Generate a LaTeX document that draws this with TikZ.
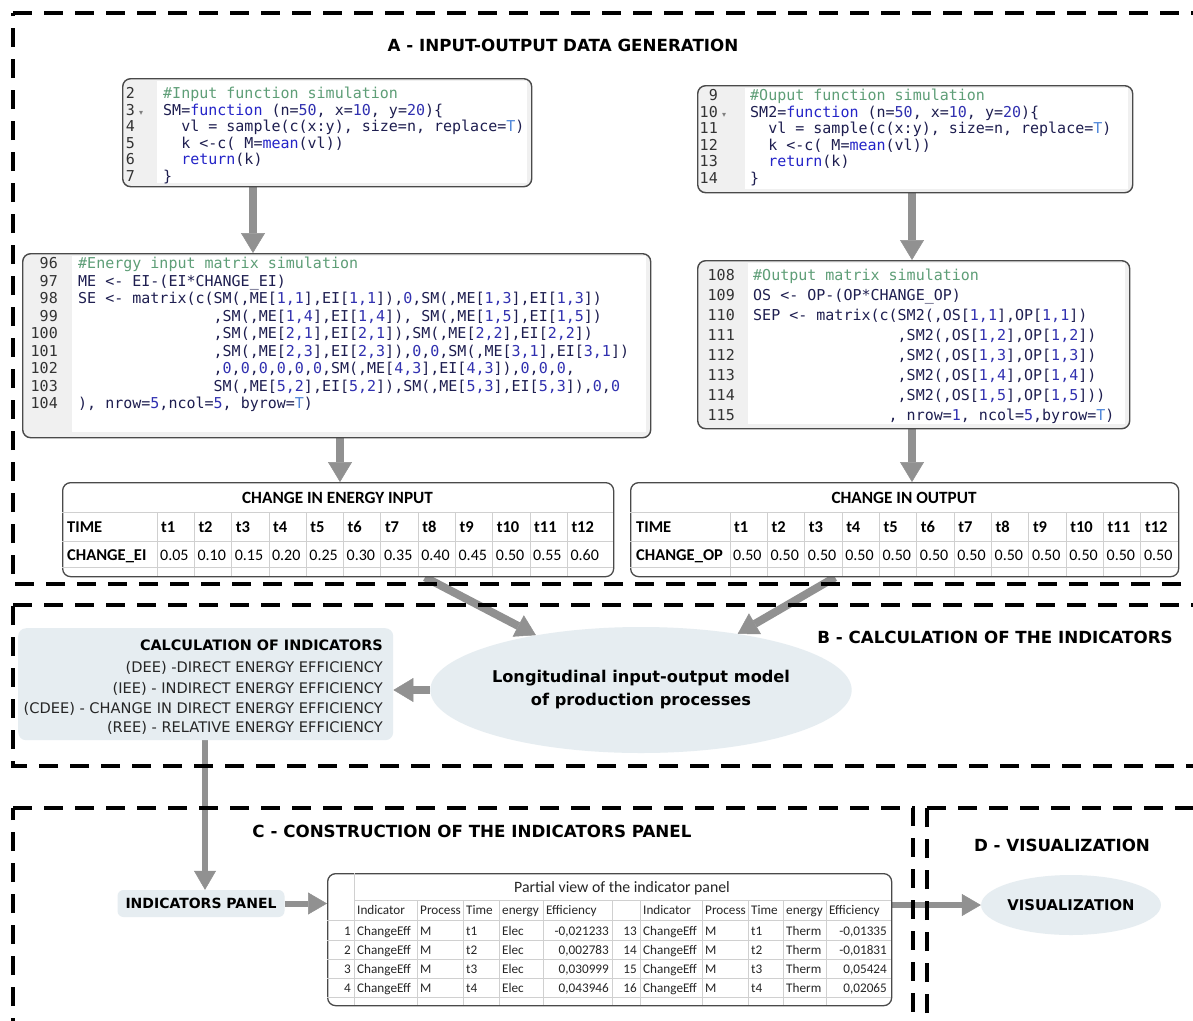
\documentclass[tikz,border=0pt]{standalone}
\usepackage{fontspec}
\setmainfont{DejaVu Sans}
\newfontfamily\codefont{DejaVu Sans Mono}
\newfontfamily\tabfont{Carlito}
\newfontfamily\symfont{DejaVu Sans}
\usetikzlibrary{arrows.meta,shapes.geometric}
\pgfdeclarelayer{bg}
\pgfsetlayers{bg,main}

\definecolor{arrowgray}{HTML}{919191}
\definecolor{panelfill}{HTML}{E6EDF1}
\definecolor{boxline}{HTML}{4A4A4A}
\definecolor{gutter}{HTML}{F0F0F0}
\definecolor{gridc}{HTML}{D0D0D0}
\definecolor{ctxt}{HTML}{1E1E50}
\definecolor{ckw}{HTML}{2424C8}
\definecolor{cnum}{HTML}{3030B0}
\definecolor{ctrue}{HTML}{4F86D9}
\definecolor{ccom}{HTML}{5E9E77}
\definecolor{lnumc}{HTML}{333333}

% token colouring for the R listings
\newcommand{\kwd}[1]{\textcolor{ckw}{#1}}
\newcommand{\nmb}[1]{\textcolor{cnum}{#1}}
\newcommand{\tru}[1]{\textcolor{ctrue}{#1}}
\newcommand{\cmt}[1]{\textcolor{ccom}{#1}}
% indentation by whole monospace characters
\newcommand{\ind}[1]{\hspace*{#1\fontcharwd\font`\M}}
% one listing line: name, baseline y, line number, code
\newcommand{\codeln}[4]{%
  \node[linenum] (#1n) at (\numx,#2) {#3};
  \node[codetext] (#1c) at (\codex,#2) {#4};}
% one row of the indicator panel
\newcommand{\panelrow}[6]{%
  \node[pcell,anchor=base east] (r#2n) at (351,#1) {#2};
  \node[pcell] (r#2i) at (357,#1) {ChangeEff};
  \node[pcell] (r#2p) at (420,#1) {M};
  \node[pcell] (r#2t) at (466,#1) {#3};
  \node[pcell] (r#2e) at (502,#1) {Elec};
  \node[pcell,anchor=base east] (r#2v) at (609,#1) {#4};
  \node[pcell,anchor=base east] (r#5n) at (637,#1) {#5};
  \node[pcell] (r#5i) at (643,#1) {ChangeEff};
  \node[pcell] (r#5p) at (705,#1) {M};
  \node[pcell] (r#5t) at (751,#1) {#3};
  \node[pcell] (r#5e) at (786,#1) {Therm};
  \node[pcell,anchor=base east] (r#5v) at (887,#1) {#6};}

\tikzset{
  sect/.style={draw=black, line width=4.5pt, dash pattern=on 19pt off 12pt},
  codebox/.style={draw=boxline, line width=1.4pt, rounded corners=8pt, fill=gutter, anchor=north west, inner sep=0},
  linenum/.style={anchor=base east, inner sep=0, font=\codefont\fontsize{15}{18}\selectfont, text=lnumc},
  codetext/.style={anchor=base west, inner sep=0, font=\codefont\fontsize{15}{18}\selectfont, text=ctxt},
  fold/.style={anchor=base west, inner sep=0, font=\symfont\fontsize{8}{10}\selectfont, text=gray},
  sectitle/.style={inner sep=0, font=\bfseries\fontsize{16.7}{20}\selectfont},
  flow/.style={draw=arrowgray, line width=8pt, -{Triangle[width=24pt,length=20pt,line width=0.5pt]}},
  flowthin/.style={draw=arrowgray, line width=6pt, -{Triangle[width=22pt,length=19pt,line width=0.5pt]}},
  tablebox/.style={draw=boxline, line width=1.3pt, rounded corners=8pt, fill=white, anchor=north west, inner sep=0},
  gridln/.style={draw=gridc, line width=0.8pt},
  tabhead/.style={inner sep=0, font=\tabfont\bfseries\fontsize{17.2}{20}\selectfont},
  tabcell/.style={anchor=base west, inner sep=0, font=\tabfont\fontsize{16}{18}\selectfont},
  tabbold/.style={anchor=base west, inner sep=0, font=\tabfont\bfseries\fontsize{16.5}{18}\selectfont},
  pcell/.style={anchor=base west, inner sep=0, font=\tabfont\fontsize{13.2}{15}\selectfont, text=black!85},
  ptitle/.style={inner sep=0, font=\tabfont\fontsize{15.8}{18}\selectfont, text=black!85},
  calctext/.style={anchor=base east, inner sep=0, font=\fontsize{14.6}{17}\selectfont, text=black!85},
  softbox/.style={fill=panelfill, draw=none},
}

\begin{document}
\begin{tikzpicture}[x=1pt,y=-1pt]
\useasboundingbox (0,0) rectangle (1193,1020);
\begin{pgfonlayer}{bg}
\fill[white] (0,0) rectangle (1193,1020);
\end{pgfonlayer}

% ---------- dashed section frames ----------
\draw[sect] (13,13) -- (1195,13) -- (1195,584) -- (13,584) -- cycle;
\draw[sect] (13,605) -- (1195,605) -- (1195,766) -- (13,766) -- cycle;
\draw[sect] (13,808) -- (913,808) -- (913,1030) -- (13,1030) -- cycle;
\draw[sect] (927,808) -- (1195,808) -- (1195,1030) -- (927,1030) -- cycle;

% ---------- section titles ----------
\node[sectitle] (titleA) at (563,45) {A - INPUT-OUTPUT DATA GENERATION};
\node[sectitle] (titleB) at (995,637) {B - CALCULATION OF THE INDICATORS};
\node[sectitle] (titleC) at (472,831) {C - CONSTRUCTION OF THE INDICATORS PANEL};
\node[sectitle] (titleD) at (1062,845) {D - VISUALIZATION};

% ---------- listing: input function ----------
\node[codebox, minimum width=409pt, minimum height=108pt] (b1) at (122,78) {};
\fill[white] (157,81) rectangle (527,183);
\def\numx{135}\def\codex{163}
\codeln{b1l2}{98.5}{2}{\cmt{\#Input function simulation}}
\codeln{b1l3}{115}{3}{SM=\kwd{function} (n=\nmb{50}, x=\nmb{10}, y=\nmb{20})\{}
\node[fold] (b1fold) at (139,115) {▾};
\codeln{b1l4}{131.5}{4}{\ind{2}vl = sample(c(x:y), size=n, replace=\tru{T})}
\codeln{b1l5}{148}{5}{\ind{2}k <-c( M=\kwd{mean}(vl))}
\codeln{b1l6}{164.5}{6}{\ind{2}\kwd{return}(k)}
\codeln{b1l7}{181}{7}{\}}

% ---------- listing: output function ----------
\node[codebox, minimum width=435pt, minimum height=107pt] (b2) at (697,85) {};
\fill[white] (745,88) rectangle (1128,189);
\def\numx{718}\def\codex{750}
\codeln{b2l9}{100.5}{9}{\cmt{\#Ouput function simulation}}
\codeln{b2l10}{117}{10}{SM2=\kwd{function} (n=\nmb{50}, x=\nmb{10}, y=\nmb{20})\{}
\node[fold] (b2fold) at (722,117) {▾};
\codeln{b2l11}{133.5}{11}{\ind{2}vl = sample(c(x:y), size=n, replace=\tru{T})}
\codeln{b2l12}{150}{12}{\ind{2}k <-c( M=\kwd{mean}(vl))}
\codeln{b2l13}{166.5}{13}{\ind{2}\kwd{return}(k)}
\codeln{b2l14}{183}{14}{\}}

% ---------- listing: energy input matrix ----------
\node[codebox, minimum width=628pt, minimum height=184pt] (b3) at (22,253) {};
\fill[white] (72,256) rectangle (646,432);
\def\numx{58}\def\codex{78}
\codeln{b3l96}{268.5}{96}{\cmt{\#Energy input matrix simulation}}
\codeln{b3l97}{286}{97}{ME <- EI-(EI*CHANGE\_EI)}
\codeln{b3l98}{303.5}{98}{SE <- matrix(c(SM(,ME[\nmb{1,1}],EI[\nmb{1,1}]),\nmb{0},SM(,ME[\nmb{1,3}],EI[\nmb{1,3}])}
\codeln{b3l99}{321}{99}{\ind{15},SM(,ME[\nmb{1,4}],EI[\nmb{1,4}]), SM(,ME[\nmb{1,5}],EI[\nmb{1,5}])}
\codeln{b3l100}{338.5}{100}{\ind{15},SM(,ME[\nmb{2,1}],EI[\nmb{2,1}]),SM(,ME[\nmb{2,2}],EI[\nmb{2,2}])}
\codeln{b3l101}{356}{101}{\ind{15},SM(,ME[\nmb{2,3}],EI[\nmb{2,3}]),\nmb{0},\nmb{0},SM(,ME[\nmb{3,1}],EI[\nmb{3,1}])}
\codeln{b3l102}{373.5}{102}{\ind{15},\nmb{0},\nmb{0},\nmb{0},\nmb{0},\nmb{0},\nmb{0},SM(,ME[\nmb{4,3}],EI[\nmb{4,3}]),\nmb{0},\nmb{0},\nmb{0},}
\codeln{b3l103}{391}{103}{\ind{15}SM(,ME[\nmb{5,2}],EI[\nmb{5,2}]),SM(,ME[\nmb{5,3}],EI[\nmb{5,3}]),\nmb{0},\nmb{0}}
\codeln{b3l104}{408.5}{104}{), nrow=\nmb{5},ncol=\nmb{5}, byrow=\tru{T})}

% ---------- listing: output matrix ----------
\node[codebox, minimum width=432pt, minimum height=168pt] (b4) at (697,260) {};
\fill[white] (748,263) rectangle (1125,424);
\def\numx{735}\def\codex{753}
\codeln{b4l108}{280.5}{108}{\cmt{\#Output matrix simulation}}
\codeln{b4l109}{300.5}{109}{OS <- OP-(OP*CHANGE\_OP)}
\codeln{b4l110}{320.5}{110}{SEP <- matrix(c(SM2(,OS[\nmb{1,1}],OP[\nmb{1,1}])}
\codeln{b4l111}{340.5}{111}{\ind{16},SM2(,OS[\nmb{1,2}],OP[\nmb{1,2}])}
\codeln{b4l112}{360.5}{112}{\ind{16},SM2(,OS[\nmb{1,3}],OP[\nmb{1,3}])}
\codeln{b4l113}{380.5}{113}{\ind{16},SM2(,OS[\nmb{1,4}],OP[\nmb{1,4}])}
\codeln{b4l114}{400.5}{114}{\ind{16},SM2(,OS[\nmb{1,5}],OP[\nmb{1,5}]))}
\codeln{b4l115}{420.5}{115}{\ind{15}, nrow=\nmb{1}, ncol=\nmb{5},byrow=\tru{T})}

% ---------- table: change in energy input ----------
\node[tablebox, minimum width=551pt, minimum height=94pt] (t1) at (62,482) {};
\draw[gridln] (62,512) -- (613,512) (62,541) -- (613,541) (62,567) -- (613,567);
\foreach \k in {0,...,11} \draw[gridln] ({157+37.3*\k},512) -- ({157+37.3*\k},576);
\node[tabhead] (t1title) at (337.5,498) {CHANGE IN ENERGY INPUT};
\node[tabbold] (t1time) at (67,532) {TIME};
\foreach \k in {1,...,12} \node[tabbold] (t1t\k) at ({161+37.3*(\k-1)},532) {t\k};
\node[tabbold] (t1lab) at (67,560) {CHANGE\_EI};
\foreach \v [count=\k] in {0.05,0.10,0.15,0.20,0.25,0.30,0.35,0.40,0.45,0.50,0.55,0.60}
  \node[tabcell] (t1v\k) at ({160+37.3*(\k-1)},560) {\v};

% ---------- table: change in output ----------
\node[tablebox, minimum width=548pt, minimum height=94pt] (t2) at (630,482) {};
\draw[gridln] (630,512) -- (1178,512) (630,541) -- (1178,541) (630,567) -- (1178,567);
\foreach \k in {0,...,11} \draw[gridln] ({730+37.35*\k},512) -- ({730+37.35*\k},576);
\node[tabhead] (t2title) at (904,498) {CHANGE IN OUTPUT};
\node[tabbold] (t2time) at (636,532) {TIME};
\foreach \k in {1,...,12} \node[tabbold] (t2t\k) at ({734+37.35*(\k-1)},532) {t\k};
\node[tabbold] (t2lab) at (636,560) {CHANGE\_OP};
\foreach \k in {1,...,12} \node[tabcell] (t2v\k) at ({733+37.35*(\k-1)},560) {0.50};

% ---------- B: indicators and model ----------
\node[softbox, rounded corners=8pt, minimum width=375pt, minimum height=112pt, anchor=north west, inner sep=0] (calc) at (18,628) {};
\node[calctext, font=\bfseries\fontsize{14.4}{17}\selectfont, text=black] (calc0) at (383,650) {CALCULATION OF INDICATORS};
\node[calctext] (calc1) at (383,672) {(DEE) -DIRECT ENERGY EFFICIENCY};
\node[calctext] (calc2) at (383,693) {(IEE) - INDIRECT ENERGY EFFICIENCY};
\node[calctext] (calc3) at (383,713) {(CDEE) - CHANGE IN DIRECT ENERGY EFFICIENCY};
\node[calctext] (calc4) at (383,732) {(REE) - RELATIVE ENERGY EFFICIENCY};

\node[ellipse, softbox, minimum width=320pt, minimum height=126pt, inner sep=0, align=center,
      font=\bfseries\fontsize{16.2}{23}\selectfont] (model) at (641,690)
      {Longitudinal input-output model\\of production processes};

% ---------- C: indicators panel ----------
\node[softbox, rounded corners=6pt, minimum width=167pt, minimum height=27pt, inner sep=0,
      font=\bfseries\fontsize{14}{16}\selectfont] (ipanel) at (201,903.5) {INDICATORS PANEL};

\node[tablebox, minimum width=564pt, minimum height=132pt] (t3) at (327,873) {};
\draw[gridln] (354,900) -- (891,900);
\foreach \yy in {920,940,959,978,997} \draw[gridln] (327,\yy) -- (891,\yy);
\draw[gridln] (354,873) -- (354,1005);
\foreach \xx in {417,463,499,543,612,640,702,748,783,826} \draw[gridln] (\xx,900) -- (\xx,1005);
\node[ptitle] (ptitle) at (622,888) {Partial view of the indicator panel};
\foreach \xx/\hd [count=\i] in {357/Indicator,420/Process,466/Time,502/energy,546/Efficiency,643/Indicator,705/Process,751/Time,786/energy,829/Efficiency}
  \node[pcell] (hd\i) at (\xx,914.5) {\hd};
\panelrow{935}{1}{t1}{-0,021233}{13}{-0,01335}
\panelrow{954}{2}{t2}{0,002783}{14}{-0,01831}
\panelrow{973}{3}{t3}{0,030999}{15}{0,05424}
\panelrow{992}{4}{t4}{0,043946}{16}{0,02065}

% ---------- D: visualization ----------
\node[ellipse, softbox, minimum width=148pt, minimum height=60pt, inner sep=0,
      font=\bfseries\fontsize{14.8}{16}\selectfont] (vis) at (1071,905) {VISUALIZATION};

% ---------- connectors ----------
\coordinate (x1) at (253,0);
\coordinate (x2) at (912,0);
\coordinate (x3) at (340,0);
\coordinate (x5) at (425,0);
\coordinate (x6) at (835,0);
\coordinate (x7) at (205,0);
\begin{pgfonlayer}{bg}
\draw[flow] (x1 |- b1.south) -- (x1 |- b3.north);
\draw[flow] (x2 |- b2.south) -- (x2 |- b4.north);
\draw[flow] (x3 |- b3.south) -- (x3 |- t1.north);
\draw[flow] (x2 |- b4.south) -- (x2 |- t2.north);
\draw[flow] (x5 |- t1.south) -- (model);
\draw[flow] (x6 |- t2.south) -- (model);
\draw[flow] (model.west) -- (model.west -| calc.east);
\draw[flowthin] (x7 |- calc.south) -- (x7 |- ipanel.north);
\draw[flowthin] (ipanel.east) -- (ipanel.east -| t3.west);
\draw[flowthin] (vis.west -| t3.east) -- (vis.west);
\end{pgfonlayer}
\end{tikzpicture}
\end{document}
